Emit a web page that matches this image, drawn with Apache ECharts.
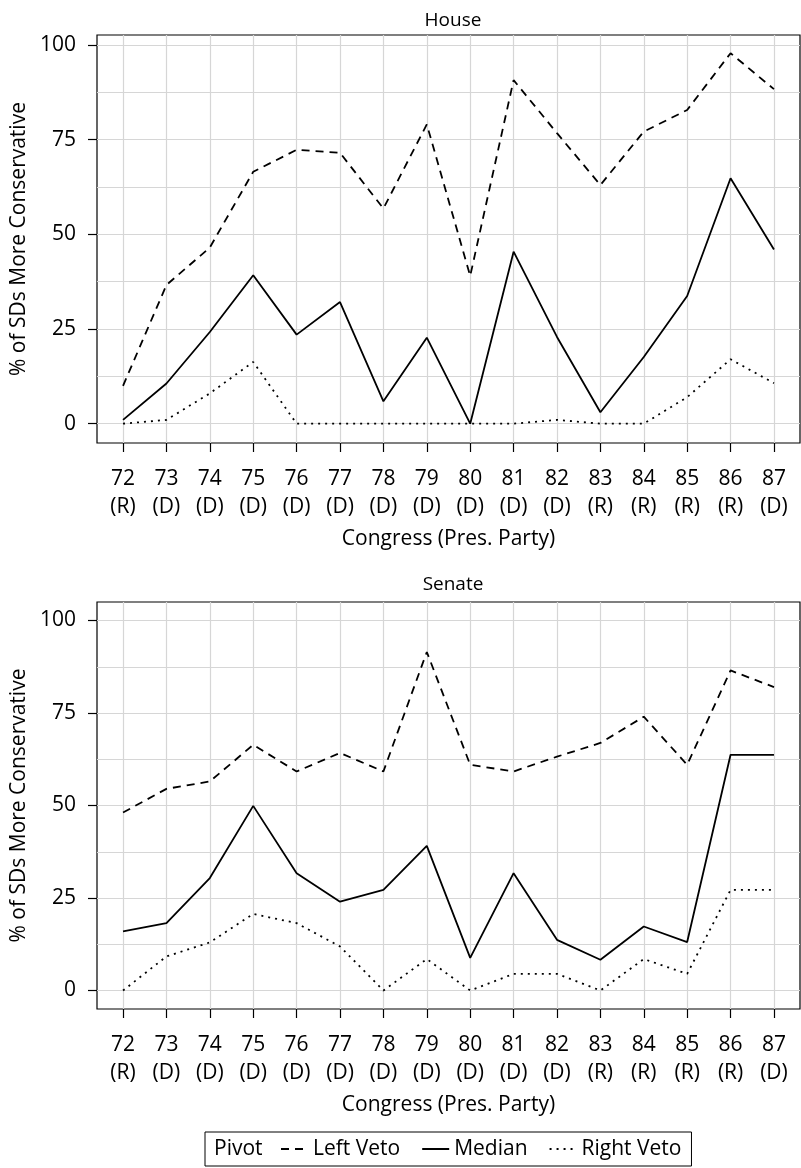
<!DOCTYPE html>
<html>
<head>
<meta charset="utf-8">
<script src="https://cdn.jsdelivr.net/npm/echarts@6/dist/echarts.min.js"></script>
<style>
  html, body { margin: 0; padding: 0; background: #fff; }
  #chart { width: 801px; height: 1168px; }
</style>
</head>
<body>
<div id="chart"></div>
<script>
// congress number and party of the president
const congress = [72, 73, 74, 75, 76, 77, 78, 79, 80, 81, 82, 83, 84, 85, 86, 87];
const party = ['R', 'D', 'D', 'D', 'D', 'D', 'D', 'D', 'D', 'D', 'D', 'R', 'R', 'R', 'R', 'D'];
const yTicks = [0, 25, 50, 75, 100];
const yGrid = [0, 12.5, 25, 37.5, 50, 62.5, 75, 87.5, 100];

// House
const houseLeft = [10, 36.6, 46.5, 66.5, 72.3, 71.5, 56.8, 79, 39, 90.7, 76.7, 63, 77.1, 82.8, 97.8, 88.3];
const houseMedian = [1, 10.6, 24.2, 39.2, 23.5, 32.1, 5.9, 22.7, 0, 45.4, 22.9, 3, 17.6, 33.7, 64.8, 46];
const houseRight = [0, 1, 8, 16.3, 0, 0, 0, 0, 0, 0, 1, 0, 0, 7, 17, 10.7];

// Senate
const senateLeft = [48.1, 54.5, 56.5, 66.4, 59.2, 64.2, 59.2, 91.5, 61, 59.2, 63.2, 66.9, 74, 61, 86.5, 82];
const senateMedian = [16, 18.2, 30.4, 49.9, 31.7, 24, 27.2, 39.1, 8.8, 31.7, 13.7, 8.3, 17.3, 13.1, 63.7, 63.7];
const senateRight = [0, 9.2, 13, 20.7, 18.2, 11.9, 0, 8.5, 0, 4.5, 4.5, 0, 8.5, 4.5, 27.2, 27.2];

const FONT = 'Open Sans';
const FS = 21;

function pairs(vals) {
    return congress.map((c, i) => [c, vals[i]]);
}

function xAxisFor(gridIndex) {
    return {
        type: 'value',
        gridIndex: gridIndex,
        min: 71.4,
        max: 87.6,
        name: 'Congress (Pres. Party)',
        nameLocation: 'middle',
        nameGap: 86,
        nameTextStyle: { fontFamily: FONT, fontSize: FS, color: '#000' },
        axisLine: { show: false, onZero: false },
        axisTick: { show: true, length: 9, customValues: congress, lineStyle: { color: '#000', width: 1.2 } },
        axisLabel: {
            customValues: congress,
            margin: 22,
            fontFamily: FONT, fontSize: FS, color: '#000', lineHeight: 28,
            formatter: function (v) {
                const i = congress.indexOf(Math.round(v));
                return v + '\n(' + party[i] + ')';
            }
        },
        splitLine: { show: false }
    };
}

function yAxisFor(gridIndex, min, max) {
    return {
        type: 'value',
        gridIndex: gridIndex,
        min: min,
        max: max,
        name: '% of SDs More Conservative',
        nameLocation: 'middle',
        nameGap: 66,
        nameTextStyle: { fontFamily: FONT, fontSize: FS, color: '#000' },
        axisLine: { show: false, onZero: false },
        axisTick: { show: true, length: 9, customValues: yTicks, lineStyle: { color: '#000', width: 1.2 } },
        axisLabel: { customValues: yTicks, margin: 21, fontFamily: FONT, fontSize: FS, color: '#000' },
        splitLine: { show: false }
    };
}

// background grid lines, drawn on the axes' own scales
function gridSeries(idx) {
    return {
        type: 'line',
        xAxisIndex: idx,
        yAxisIndex: idx,
        data: [],
        silent: true,
        z: 1,
        markLine: {
            silent: true,
            z: 1,
            symbol: ['none', 'none'],
            animation: false,
            label: { show: false },
            lineStyle: { color: '#d6d6d6', width: 1.2, type: 'solid' },
            data: congress.map(c => ({ xAxis: c })).concat(yGrid.map(v => ({ yAxis: v })))
        }
    };
}

function lineSeries(name, idx, vals, type) {
    return {
        name: name,
        type: 'line',
        xAxisIndex: idx,
        yAxisIndex: idx,
        data: pairs(vals),
        symbol: 'none',
        z: 3,
        lineStyle: { color: '#000', width: 1.8, type: type },
        itemStyle: { color: '#000' }
    };
}

const DASH = [8, 6];
const DOT = [2, 5];

const chart = echarts.init(document.getElementById('chart'), null, { renderer: 'canvas' });
chart.setOption({
    animation: false,
    backgroundColor: '#fff',
    title: [
        { text: 'House', left: 448, top: 6, textAlign: 'center',
          textStyle: { fontFamily: FONT, fontSize: FS - 2, fontWeight: 'normal', color: '#000' } },
        { text: 'Senate', left: 448, top: 570, textAlign: 'center',
          textStyle: { fontFamily: FONT, fontSize: FS - 2, fontWeight: 'normal', color: '#000' } }
    ],
    grid: [
        { left: 97, top: 35, width: 703, height: 408, show: true, borderColor: '#000', borderWidth: 1.2, backgroundColor: 'transparent' },
        { left: 97, top: 602, width: 703, height: 407, show: true, borderColor: '#000', borderWidth: 1.2, backgroundColor: 'transparent' }
    ],
    xAxis: [xAxisFor(0), xAxisFor(1)],
    yAxis: [yAxisFor(0, -5.1, 102.6), yAxisFor(1, -5, 105)],
    legend: {
        data: ['Left Veto', 'Median', 'Right Veto'],
        left: 205,
        top: 1132,
        orient: 'horizontal',
        itemWidth: 27,
        itemHeight: 14,
        itemGap: 21,
        padding: [6, 10, 6, 75],
        borderColor: '#000',
        borderWidth: 1,
        itemStyle: { opacity: 0 },
        textStyle: { fontFamily: FONT, fontSize: FS, lineHeight: 22, color: '#000' }
    },
    graphic: [
        { type: 'text', x: 214, y: 1149,
          style: { text: 'Pivot', font: FS + 'px "' + FONT + '"', fill: '#000', verticalAlign: 'middle' } }
    ],
    series: [
        gridSeries(0),
        gridSeries(1),
        lineSeries('Left Veto', 0, houseLeft, DASH),
        lineSeries('Median', 0, houseMedian, 'solid'),
        lineSeries('Right Veto', 0, houseRight, DOT),
        lineSeries('Left Veto', 1, senateLeft, DASH),
        lineSeries('Median', 1, senateMedian, 'solid'),
        lineSeries('Right Veto', 1, senateRight, DOT)
    ]
});
</script>
</body>
</html>
